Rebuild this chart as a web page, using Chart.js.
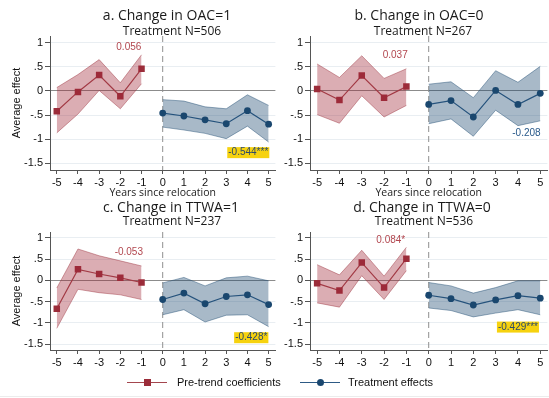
<!DOCTYPE html>
<html>
<head>
<meta charset="utf-8">
<script src="https://cdn.jsdelivr.net/npm/chart.js@4"></script>
<style>
  body { margin: 0; background: #fff; width: 549px; height: 398px; overflow: hidden; position: relative; }
  canvas { position: absolute; }
  .ttl { position: absolute; font-family: "Open Sans", sans-serif; color: #1a1a1a; white-space: nowrap; transform: translate(-50%, -50%); }
  .big { font-size: 14px; }
  .sub { font-size: 12px; }
  .leg { position: absolute; font-family: "Liberation Sans", Arial, sans-serif; font-size: 11px; color: #111; transform: translateY(-50%); }
</style>
</head>
<body>
<canvas id="cA" width="280" height="200" style="left:0;top:0"></canvas>
<canvas id="cB" width="278" height="200" style="left:274px;top:0"></canvas>
<canvas id="cC" width="280" height="178" style="left:0;top:190px"></canvas>
<canvas id="cD" width="278" height="178" style="left:274px;top:190px"></canvas>

<div class="ttl big" style="left:167px;top:14px">a. Change in OAC=1</div>
<div class="ttl sub" style="left:172px;top:30px">Treatment N=506</div>
<div class="ttl big" style="left:419px;top:14px">b. Change in OAC=0</div>
<div class="ttl sub" style="left:423px;top:30px">Treatment N=267</div>
<div class="ttl big" style="left:171px;top:206px">c. Change in TTWA=1</div>
<div class="ttl sub" style="left:172px;top:220px">Treatment N=237</div>
<div class="ttl big" style="left:422px;top:206px">d. Change in TTWA=0</div>
<div class="ttl sub" style="left:424px;top:220px">Treatment N=536</div>

<!-- legend -->
<div style="position:absolute;left:127px;top:381.5px;width:40px;height:1.2px;background:#a4464e"></div>
<div style="position:absolute;left:143.5px;top:378.5px;width:7px;height:7px;background:#9b2d3a"></div>
<div class="leg" style="left:177px;top:382px">Pre-trend coefficients</div>
<div style="position:absolute;left:300px;top:381.5px;width:40px;height:1.2px;background:#2d5a85"></div>
<div style="position:absolute;left:316.5px;top:378.5px;width:7px;height:7px;border-radius:50%;background:#1a476f"></div>
<div class="leg" style="left:348px;top:382px">Treatment effects</div>
<div style="position:absolute;left:0;top:396px;width:549px;height:1px;background:#ececec"></div>

<script>
// years on the x axis
const preYears = [-5, -4, -3, -2, -1]
const postYears = [0, 1, 2, 3, 4, 5]
const xTickVals = [-5, -4, -3, -2, -1, 0, 1, 2, 3, 4, 5]
const yTickVals = [-1.5, -1, -0.5, 0, 0.5, 1]

/*a. Change in OAC=1*/
const preA = [-0.42, -0.02, 0.33, -0.11, 0.46]
const preA_lo = [-0.87, -0.48, 0.01, -0.37, 0.15]
const preA_hi = [0.07, 0.34, 0.65, 0.17, 0.75]
const postA = [-0.46, -0.52, -0.60, -0.68, -0.41, -0.69]
const postA_lo = [-0.75, -0.81, -0.88, -0.99, -0.73, -1.06]
const postA_hi = [-0.18, -0.21, -0.33, -0.37, -0.08, -0.30]

/*b. Change in OAC=0*/
const preB = [0.04, -0.19, 0.32, -0.14, 0.09]
const preB_lo = [-0.49, -0.67, -0.10, -0.54, -0.30]
const preB_hi = [0.56, 0.28, 0.73, 0.26, 0.46]
const postB = [-0.28, -0.20, -0.54, 0.01, -0.28, -0.05]
const postB_lo = [-0.68, -0.58, -0.94, -0.40, -0.72, -0.62]
const postB_hi = [0.14, 0.19, -0.14, 0.42, 0.18, 0.51]

/*c. Change in TTWA=1*/
const preC = [-0.67, 0.26, 0.15, 0.06, -0.05]
const preC_lo = [-1.13, -0.21, -0.29, -0.34, -0.45]
const preC_hi = [-0.18, 0.74, 0.58, 0.46, 0.34]
const postC = [-0.45, -0.30, -0.55, -0.38, -0.34, -0.57]
const postC_lo = [-0.81, -0.69, -0.98, -0.82, -0.81, -1.09]
const postC_hi = [-0.06, 0.07, -0.13, 0.06, 0.10, -0.01]

/*d. Change in TTWA=0*/
const preD = [-0.07, -0.24, 0.42, -0.17, 0.51]
const preD_lo = [-0.53, -0.63, 0.11, -0.45, 0.23]
const preD_hi = [0.37, 0.13, 0.71, 0.10, 0.78]
const postD = [-0.35, -0.43, -0.58, -0.46, -0.36, -0.42]
const postD_lo = [-0.65, -0.71, -0.86, -0.77, -0.69, -0.81]
const postD_hi = [-0.05, -0.13, -0.30, -0.17, -0.01, -0.01]

// text labels inside the panels (a, b, c, d)
const preLabel = ['0.056', '0.037', '-0.053', '0.084*']
const preLabelX = [-1.6, -1.5, -1.6, -1.7]
const preLabelY = [0.9, 0.74, 0.67, 0.94]
const postLabel = ['-0.544***', '-0.208', '-0.428*', '-0.429***']
const postLabelX = [4.04, 4.38, 4.18, 4.0]
const postLabelY = [-1.28, -0.88, -1.35, -1.1]
const postLabelHi = [true, false, true, true]

const RED = '#9b2d3a'
const BLUE = '#1a476f'
const FONT = '"Liberation Sans", Arial, sans-serif'

function pts(xs, ys) {
    return xs.map((x, i) => ({x: x, y: ys[i]}))
}

/*linha tracejada no zero e textos*/
const extras = {
    id: 'extras',
    beforeDatasetsDraw(chart) {
        const {ctx, chartArea, scales} = chart
        const x0 = scales.x.getPixelForValue(0)
        ctx.save()
        ctx.strokeStyle = '#8f8f8f'
        ctx.lineWidth = 1
        ctx.setLineDash([6, 4])
        ctx.beginPath()
        ctx.moveTo(x0, chartArea.top)
        ctx.lineTo(x0, chartArea.bottom)
        ctx.stroke()
        ctx.restore()
    },
    afterDatasetsDraw(chart) {
        const k = chart.options.plugins.extras.k
        const {ctx, scales} = chart
        ctx.save()
        ctx.font = '10px ' + FONT
        ctx.textAlign = 'center'
        ctx.textBaseline = 'middle'
        let px = scales.x.getPixelForValue(preLabelX[k])
        let py = scales.y.getPixelForValue(preLabelY[k])
        ctx.fillStyle = '#b2474f'
        ctx.fillText(preLabel[k], px, py)

        px = scales.x.getPixelForValue(postLabelX[k])
        py = scales.y.getPixelForValue(postLabelY[k])
        if (postLabelHi[k]) {
            const w = ctx.measureText(postLabel[k]).width
            ctx.fillStyle = '#f6d20f'
            ctx.fillRect(px - w / 2 - 1, py - 5.5, w + 2, 11)
        }
        ctx.fillStyle = postLabelHi[k] ? '#2c4a6a' : '#28598a'
        ctx.fillText(postLabel[k], px, py)
        ctx.restore()
    }
}

function makePanel(id, k, pre, preLo, preHi, post, postLo, postHi, opt) {
    const ctx = document.getElementById(id).getContext('2d')
    return new Chart(ctx, {
        type: 'line',
        data: {
            datasets: [
                {data: pts(preYears, preLo), borderColor: 'rgba(155,45,58,0.55)', borderWidth: 0.8, pointRadius: 0, fill: false},
                {data: pts(preYears, preHi), borderColor: 'rgba(155,45,58,0.55)', borderWidth: 0.8, pointRadius: 0, fill: '-1', backgroundColor: 'rgba(160,40,55,0.38)'},
                {data: pts(postYears, postLo), borderColor: 'rgba(26,71,111,0.55)', borderWidth: 0.8, pointRadius: 0, fill: false},
                {data: pts(postYears, postHi), borderColor: 'rgba(26,71,111,0.55)', borderWidth: 0.8, pointRadius: 0, fill: '-1', backgroundColor: 'rgba(26,71,111,0.38)'},
                {data: pts(preYears, pre), borderColor: '#a4464e', borderWidth: 1.2, pointStyle: 'rect', pointRadius: 4.6, pointBackgroundColor: RED, pointBorderWidth: 0, fill: false},
                {data: pts(postYears, post), borderColor: '#2d5a85', borderWidth: 1.2, pointStyle: 'circle', pointRadius: 3.4, pointBackgroundColor: BLUE, pointBorderWidth: 0, fill: false}
            ]
        },
        options: {
            responsive: false,
            animation: false,
            devicePixelRatio: 1,
            layout: {padding: {top: opt.top, right: 0, bottom: 0, left: 0}},
            elements: {line: {tension: 0}},
            plugins: {legend: {display: false}, tooltip: {enabled: false}, extras: {k: k}},
            scales: {
                x: {
                    type: 'linear',
                    min: -5.32, max: 5.32,
                    afterBuildTicks: s => { s.ticks = xTickVals.map(v => ({value: v})) },
                    afterFit: s => { s.height = opt.xh },
                    ticks: {autoSkip: false, maxRotation: 0, padding: 2, color: '#111', font: {family: FONT, size: 11}},
                    grid: {drawOnChartArea: false, tickLength: 4, tickColor: '#555'},
                    border: {display: true, color: '#555', width: 1},
                    title: {display: opt.xtitle, text: 'Years since relocation', color: '#222', padding: {top: 0, bottom: 1}, font: {family: '"Open Sans", sans-serif', size: 10.5}}
                },
                y: {
                    min: -1.64, max: 1.14,
                    afterBuildTicks: s => { s.ticks = yTickVals.map(v => ({value: v})) },
                    afterFit: s => { s.width = opt.yw },
                    ticks: {padding: 2, color: '#111', font: {family: FONT, size: 11},
                        callback: v => v == 0 ? '0' : String(v).replace('0.', '.')},
                    grid: {
                        color: c => (c.tick && c.tick.value === 0) ? '#8c8c8c' : '#e9eef2',
                        lineWidth: 1, tickLength: 5, tickColor: '#555'
                    },
                    border: {display: true, color: '#555', width: 1},
                    title: {display: opt.ytitle, text: 'Average effect', color: '#111', padding: {top: 10, bottom: 0}, font: {family: FONT, size: 11}}
                }
            }
        },
        plugins: [extras]
    })
}

makePanel('cA', 0, preA, preA_lo, preA_hi, postA, postA_lo, postA_hi, {top: 36, xh: 30, yw: 50, xtitle: true, ytitle: true})
makePanel('cB', 1, preB, preB_lo, preB_hi, postB, postB_lo, postB_hi, {top: 36, xh: 30, yw: 36, xtitle: true, ytitle: false})
makePanel('cC', 2, preC, preC_lo, preC_hi, postC, postC_lo, postC_hi, {top: 42, xh: 18, yw: 50, xtitle: false, ytitle: true})
makePanel('cD', 3, preD, preD_lo, preD_hi, postD, postD_lo, postD_hi, {top: 42, xh: 18, yw: 36, xtitle: false, ytitle: false})
</script>
</body>
</html>
